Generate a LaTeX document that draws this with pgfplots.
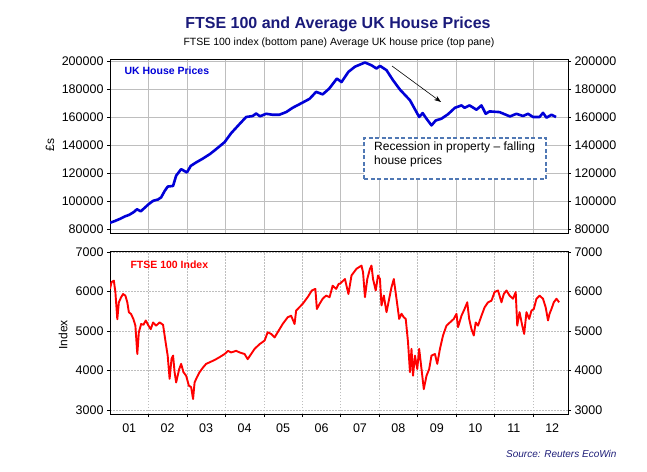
\documentclass[border=0pt]{standalone}
\usepackage{pgfplots}
\pgfplotsset{compat=1.18}
\usetikzlibrary{arrows.meta}
\usepackage{fontspec}
\setmainfont{Liberation Sans}
\definecolor{titleblue}{RGB}{26,26,122}
\definecolor{hpblue}{RGB}{0,0,215}
\definecolor{boxblue}{RGB}{80,120,180}
\definecolor{gridgray}{RGB}{190,190,190}
\definecolor{srcblue}{RGB}{30,30,120}
\pgfplotsset{
  pane/.style={
    scale only axis, width=458pt, xmin=2001, xmax=2012.91,
    anchor=south west,
    axis line style={black, line width=0.8pt},
    tick align=outside, major tick length=3pt,
    tick style={black, line width=0.6pt},
    ticklabel style={font=\fontsize{12.5}{14}\selectfont},
    /pgf/number format/assume math mode=true,
    /pgf/number format/fixed,
    /pgf/number format/precision=0,
    /pgf/number format/set thousands separator={},
    scaled y ticks=false,
    xtick={2002,...,2012},
    clip=true,
  }
}
\begin{document}
\begin{tikzpicture}[x=1pt,y=1pt]
\useasboundingbox (0,0) rectangle (647,471);

% ---------------- top pane ----------------
\begin{axis}[pane, at={(110pt,238pt)}, height=174pt,
  ymin=77000, ymax=201500, ytick={80000,100000,...,200000},
  xmajorgrids, ymajorgrids, grid style={gridgray, line width=0.6pt},
  xticklabels={}, xtick style={draw=none},
  ytick pos=left]
\addplot[hpblue, line width=2.6pt, line join=round] coordinates {
(2001.0,84300)(2001.12,85500)(2001.25,87000)(2001.4,89000)(2001.5,90000)(2001.62,92000)(2001.7,94000)(2001.8,92500)(2001.9,95000)(2002.0,97500)(2002.12,100000)(2002.25,101000)(2002.33,102500)(2002.42,107000)(2002.5,110200)(2002.64,110700)(2002.72,118000)(2002.85,122700)(2003.0,120300)(2003.1,125000)(2003.24,127500)(2003.4,130000)(2003.6,133500)(2003.76,137000)(2003.98,142000)(2004.15,148400)(2004.37,155000)(2004.54,160000)(2004.71,160700)(2004.8,162500)(2004.9,160500)(2005.06,162300)(2005.23,161600)(2005.4,161600)(2005.58,163500)(2005.75,166600)(2006.0,170200)(2006.19,173000)(2006.36,178000)(2006.53,176200)(2006.7,180300)(2006.9,187500)(2007.02,185000)(2007.2,192300)(2007.37,196000)(2007.63,199000)(2007.8,197000)(2007.93,194700)(2008.02,196600)(2008.19,193500)(2008.36,186300)(2008.54,179600)(2008.8,172000)(2008.97,163500)(2009.04,160000)(2009.13,162800)(2009.23,158800)(2009.36,154000)(2009.47,157500)(2009.62,158800)(2009.79,162000)(2009.97,166600)(2010.14,168300)(2010.22,166600)(2010.35,168300)(2010.53,165200)(2010.66,168300)(2010.77,162300)(2010.87,164000)(2011.13,163500)(2011.4,160400)(2011.57,162300)(2011.74,160700)(2011.87,162300)(2012.0,160000)(2012.17,160000)(2012.26,163000)(2012.35,159500)(2012.48,161600)(2012.6,160000)
};
\end{axis}
\begin{axis}[pane, at={(110pt,238pt)}, height=174pt,
  ymin=77000, ymax=201500, ytick={80000,100000,...,200000},
  axis y line*=right, axis x line=none]
\addplot[draw=none] coordinates {(2002,100000)};
\end{axis}

% ---------------- bottom pane ----------------
\begin{axis}[pane, at={(110pt,57pt)}, height=163pt,
  ymin=2900, ymax=7030, ytick={3000,4000,...,7000},
  xmajorgrids, ymajorgrids, grid style={gridgray, line width=0.6pt, dash pattern=on 1.5pt off 1.5pt},
  xticklabels={}, xtick pos=bottom,
  ytick pos=left,
  extra x ticks={2001.5,2002.5,2003.5,2004.5,2005.5,2006.5,2007.5,2008.5,2009.5,2010.5,2011.5,2012.5},
  extra x tick labels={01,02,03,04,05,06,07,08,09,10,11,12},
  extra x tick style={major tick length=0pt, major grid style={draw=none},
    xticklabel style={yshift=-6pt}}]
\addplot[red, line width=1.9pt, line join=round] coordinates {
(2001.0,6070)(2001.04,6240)(2001.1,6280)(2001.14,5990)(2001.19,5300)(2001.23,5730)(2001.29,5860)(2001.34,5940)(2001.4,5900)(2001.45,5730)(2001.49,5480)(2001.55,5430)(2001.61,5300)(2001.66,5140)(2001.71,4420)(2001.75,4970)(2001.81,5180)(2001.87,5160)(2001.93,5270)(2002.0,5140)(2002.06,5050)(2002.12,5220)(2002.2,5140)(2002.29,5220)(2002.38,5160)(2002.42,4890)(2002.46,4630)(2002.5,4380)(2002.55,3790)(2002.6,4300)(2002.64,4380)(2002.68,3960)(2002.72,3700)(2002.8,4040)(2002.85,4170)(2002.91,3960)(2002.98,3870)(2003.05,3620)(2003.11,3580)(2003.16,3280)(2003.2,3700)(2003.26,3830)(2003.33,3960)(2003.42,4080)(2003.5,4170)(2003.59,4210)(2003.68,4250)(2003.76,4290)(2003.85,4340)(2003.98,4420)(2004.07,4500)(2004.15,4460)(2004.28,4500)(2004.37,4460)(2004.5,4420)(2004.58,4290)(2004.67,4420)(2004.76,4550)(2004.89,4670)(2005.02,4760)(2005.1,4970)(2005.19,4930)(2005.28,4840)(2005.36,4970)(2005.49,5180)(2005.62,5350)(2005.71,5390)(2005.8,5180)(2005.84,5520)(2006.01,5690)(2006.14,5860)(2006.25,6030)(2006.34,6070)(2006.38,5560)(2006.45,5690)(2006.53,5820)(2006.62,5900)(2006.71,5860)(2006.79,6150)(2006.88,6070)(2006.95,6200)(2006.98,6200)(2007.11,6320)(2007.2,5940)(2007.28,6410)(2007.41,6580)(2007.54,6660)(2007.58,6490)(2007.63,5860)(2007.69,6320)(2007.76,6580)(2007.8,6660)(2007.84,6320)(2007.91,6030)(2007.97,6410)(2008.02,6320)(2008.06,5650)(2008.12,5900)(2008.19,5480)(2008.26,5820)(2008.32,6110)(2008.38,6320)(2008.45,5820)(2008.52,5310)(2008.58,5440)(2008.64,5350)(2008.69,5310)(2008.75,4720)(2008.8,3960)(2008.84,4550)(2008.88,3870)(2008.93,4380)(2008.99,4040)(2009.04,4550)(2009.1,4040)(2009.16,3530)(2009.23,3870)(2009.3,4040)(2009.36,4380)(2009.45,4420)(2009.51,4170)(2009.58,4550)(2009.66,4890)(2009.75,5140)(2009.84,5220)(2009.94,5310)(2010.01,5440)(2010.05,5100)(2010.14,5390)(2010.22,5560)(2010.29,5730)(2010.34,5310)(2010.4,5050)(2010.46,4890)(2010.51,5220)(2010.57,5140)(2010.66,5390)(2010.74,5600)(2010.83,5730)(2010.92,5770)(2011.0,5990)(2011.09,6030)(2011.18,5730)(2011.24,5940)(2011.31,6030)(2011.39,5900)(2011.48,5820)(2011.55,5990)(2011.59,5140)(2011.65,5480)(2011.72,5140)(2011.77,4930)(2011.83,5480)(2011.9,5310)(2011.96,5520)(2012.02,5560)(2012.09,5820)(2012.17,5900)(2012.26,5820)(2012.33,5600)(2012.39,5270)(2012.43,5440)(2012.48,5560)(2012.54,5730)(2012.61,5820)(2012.68,5730)
};
\end{axis}
\begin{axis}[pane, at={(110pt,57pt)}, height=163pt,
  ymin=2900, ymax=7030, ytick={3000,4000,...,7000},
  axis y line*=right, axis x line=none]
\addplot[draw=none] coordinates {(2002,5000)};
\end{axis}

% ---------------- texts ----------------
\node[font=\fontsize{16}{18}\selectfont\bfseries, text=titleblue] at (338,447) {FTSE 100 and Average UK House Prices};
\node[font=\fontsize{10.5}{12}\selectfont] at (339,428) {FTSE 100 index (bottom pane) Average UK house price (top pane)};
\node[font=\fontsize{10.5}{12}\selectfont\bfseries, text=hpblue, anchor=west] at (121,400) {UK House Prices};
\node[font=\fontsize{10.5}{12}\selectfont\bfseries, text=red, anchor=west] at (127,206) {FTSE 100 Index};
\node[font=\fontsize{12}{14}\selectfont, rotate=90] at (50,326) {£s};
\node[font=\fontsize{12}{14}\selectfont, rotate=90] at (63,136) {Index};
\node[font=\fontsize{10}{12}\selectfont\itshape, text=srcblue, anchor=east] at (620,17) {Source: Reuters EcoWin};
% annotation
\draw[boxblue, line width=1.1pt, dash pattern=on 4pt off 2.5pt, fill=white] (364,292) rectangle (546,333);
\node[font=\fontsize{12}{14}\selectfont, anchor=north west, align=left, inner sep=0pt] at (374,329) {Recession in property -- falling\\house prices};
\draw[black, line width=0.6pt, -{Stealth[length=7pt,width=5pt]}] (392,405) -- (441,369);
\end{tikzpicture}
\end{document}
